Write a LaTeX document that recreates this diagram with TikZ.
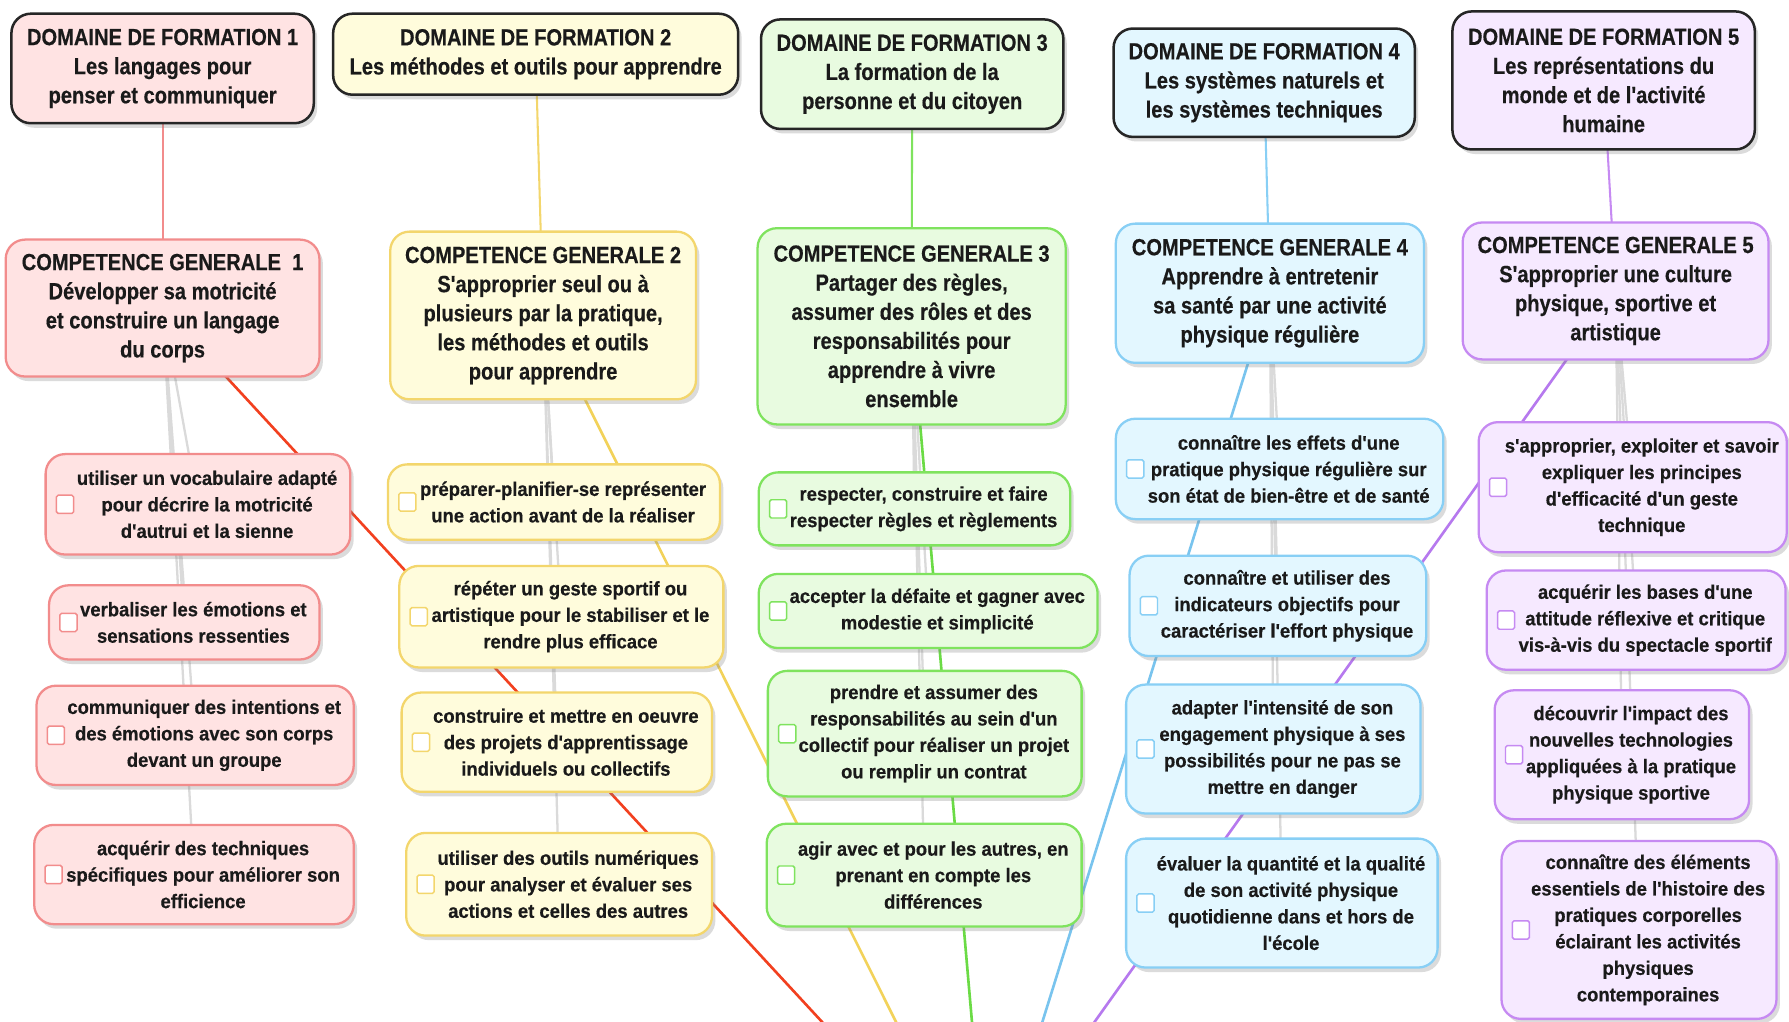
\documentclass[tikz,border=0pt]{standalone}
\usepackage{fontspec}
\setmainfont{Liberation Sans}
\newfontfamily\hfont{Liberation Sans}[FakeStretch=0.86,FakeBold=0.4]
\newfontfamily\sfont{Liberation Sans}[FakeStretch=0.94,FakeBold=0.4]
\usetikzlibrary{shadows,calc}
\pgfdeclarelayer{bg}
\pgfsetlayers{bg,main}
\definecolor{txt}{HTML}{1A1A1A}
\definecolor{dfb}{HTML}{262626}
\definecolor{fa}{HTML}{FFE3E3}\definecolor{ba}{HTML}{F28C8C}
\definecolor{fb}{HTML}{FFFCDC}\definecolor{bb}{HTML}{F3D66C}
\definecolor{fc}{HTML}{E8FBE0}\definecolor{bc}{HTML}{7FE35E}
\definecolor{fd}{HTML}{E3F7FF}\definecolor{bd}{HTML}{88CFF5}
\definecolor{fe}{HTML}{F6E9FF}\definecolor{be}{HTML}{C68AF2}
\definecolor{la}{HTML}{F2401F}
\definecolor{lb}{HTML}{F2D25A}
\definecolor{lc}{HTML}{6BDB45}
\definecolor{ld}{HTML}{79C4EE}
\definecolor{le}{HTML}{B679EE}
\definecolor{gl}{HTML}{DADADA}
\begin{document}
\begin{tikzpicture}[x=1pt,y=-1pt,
  shad/.style={drop shadow={shadow xshift=3pt,shadow yshift=-4pt,opacity=0.28}},
  dfbox/.style={draw=dfb,line width=2.2pt,rounded corners=17pt,fill=#1,shad,
    align=center,text=txt,inner sep=0pt,
    font={\hfont\bfseries\fontsize{20.5}{25.5}\selectfont}},
  cgbox/.style={line width=2pt,rounded corners=17pt,shad,
    align=center,text=txt,inner sep=0pt,
    font={\hfont\bfseries\fontsize{20.5}{25.5}\selectfont}},
  subbox/.style={line width=2pt,rounded corners=17pt,shad,inner sep=0pt},
  subtxt/.style={align=center,text=txt,inner sep=0pt,
    font={\sfont\bfseries\fontsize{17.2}{23.2}\selectfont}},
  chk/.style={draw=#1,fill=white,line width=1.3pt,minimum width=15pt,
    minimum height=16pt,inner sep=0pt,rounded corners=1.5pt},
  ca/.style={draw=ba,fill=fa},
  cb/.style={draw=bb,fill=fb},
  cc/.style={draw=bc,fill=fc},
  cd/.style={draw=bd,fill=fd},
  ce/.style={draw=be,fill=fe},
  dfline/.style={line width=1.8pt,draw=#1},
  longline/.style={line width=2.3pt,draw=#1},
  greyline/.style={line width=2pt,draw=gl}
]
\begin{pgfonlayer}{bg}
\fill[white] (0,0) rectangle (1568,895);
\end{pgfonlayer}
\useasboundingbox (0,0) rectangle (1568,895);

% Domaines
\node[dfbox=fa,minimum width=265pt,minimum height=96pt] (df1) at (142.5,60)
 {DOMAINE DE FORMATION 1\\Les langages pour\\penser et communiquer};
\node[dfbox=fb,minimum width=355pt,minimum height=71pt] (df2) at (469.5,47.5)
 {DOMAINE DE FORMATION 2\\Les méthodes et outils pour apprendre};
\node[dfbox=fc,minimum width=265pt,minimum height=96pt] (df3) at (799.5,65)
 {DOMAINE DE FORMATION 3\\La formation de la\\personne et du citoyen};
\node[dfbox=fd,minimum width=264pt,minimum height=95pt] (df4) at (1108,72.5)
 {DOMAINE DE FORMATION 4\\Les systèmes naturels et\\les systèmes techniques};
\node[dfbox=fe,minimum width=265pt,minimum height=121pt] (df5) at (1405.5,70.5)
 {DOMAINE DE FORMATION 5\\Les représentations du\\monde et de l'activité\\humaine};

% Competences generales
\node[cgbox,ca,minimum width=275pt,minimum height=120pt] (cg1) at (142.5,270)
 {COMPETENCE GENERALE\ \ 1\\Développer sa motricité\\et construire un langage\\du corps};
\node[cgbox,cb,minimum width=268pt,minimum height=147pt] (cg2) at (476,276.5)
 {COMPETENCE GENERALE 2\\S'approprier seul ou à\\plusieurs par la pratique,\\les méthodes et outils\\pour apprendre};
\node[cgbox,cc,minimum width=270pt,minimum height=172pt] (cg3) at (799,286)
 {COMPETENCE GENERALE 3\\Partager des règles,\\assumer des rôles et des\\responsabilités pour\\apprendre à vivre\\ensemble};
\node[cgbox,cd,minimum width=270pt,minimum height=122pt] (cg4) at (1113,257)
 {COMPETENCE GENERALE 4\\Apprendre à entretenir\\sa santé par une activité\\physique régulière};
\node[cgbox,ce,minimum width=268pt,minimum height=120pt] (cg5) at (1416,255)
 {COMPETENCE GENERALE 5\\S'approprier une culture\\physique, sportive et\\artistique};

% sub items: name, style, center, width, height, checkbox colour, text
\foreach \n/\st/\cx/\cy/\w/\h/\cl/\t in {
 s1a/ca/173.5/442/267/88/ba/{utiliser un vocabulaire adapté\\pour décrire la motricité\\d'autrui et la sienne},
 s1b/ca/161.5/545.5/237/65/ba/{verbaliser les émotions et\\sensations ressenties},
 s1c/ca/171/644.5/278/87/ba/{communiquer des intentions et\\des émotions avec son corps\\devant un groupe},
 s1d/ca/170/766.5/280/87/ba/{acquérir des techniques\\spécifiques pour améliorer son\\efficience},
 s2a/cb/485.5/440/291/66/bb/{préparer-planifier-se représenter\\une action avant de la réaliser},
 s2b/cb/492/540.5/284/89/bb/{répéter un geste sportif ou\\artistique pour le stabiliser et le\\rendre plus efficace},
 s2c/cb/488/650.5/272/87/bb/{construire et mettre en oeuvre\\des projets d'apprentissage\\individuels ou collectifs},
 s2d/cb/490/775/268/90/bb/{utiliser des outils numériques\\pour analyser et évaluer ses\\actions et celles des autres},
 s3a/cc/801.5/446/273/64/bc/{respecter, construire et faire\\respecter règles et règlements},
 s3b/cc/813.5/535.5/297/65/bc/{accepter la défaite et gagner avec\\modestie et simplicité},
 s3c/cc/810.5/643/275/110/bc/{prendre et assumer des\\responsabilités au sein d'un\\collectif pour réaliser un projet\\ou remplir un contrat},
 s3d/cc/810/767/276/90/bc/{agir avec et pour les autres, en\\prenant en compte les\\différences},
 s4a/cd/1121.5/411/287/88/bd/{connaître les effets d'une\\pratique physique régulière sur\\son état de bien-être et de santé},
 s4b/cd/1120/531/260/88/bd/{connaître et utiliser des\\indicateurs objectifs pour\\caractériser l'effort physique},
 s4c/cd/1116/656.5/258/113/bd/{adapter l'intensité de son\\engagement physique à ses\\possibilités pour ne pas se\\mettre en danger},
 s4d/cd/1123.5/791.5/273/113/bd/{évaluer la quantité et la qualité\\de son activité physique\\quotidienne dans et hors de\\l'école},
 s5a/ce/1431/427/270/114/be/{s'approprier, exploiter et savoir\\expliquer les principes\\d'efficacité d'un geste\\technique},
 s5b/ce/1434/543.5/262/87/be/{acquérir les bases d'une\\attitude réflexive et critique\\vis-à-vis du spectacle sportif},
 s5c/ce/1421.5/661.5/223/113/be/{découvrir l'impact des\\nouvelles technologies\\appliquées à la pratique\\physique sportive},
 s5d/ce/1436.5/815/241/156/be/{connaître des éléments\\essentiels de l'histoire des\\pratiques corporelles\\éclairant les activités\\physiques\\contemporaines}}
{
 \node[subbox,\st,minimum width=\w pt,minimum height=\h pt] (\n) at (\cx,\cy) {};
 \node[chk=\cl] (\n c) at ($(\n.west)+(18,0)$) {};
 \node[subtxt] (\n t) at ($(\n.center)+(8,0)$) {\t};
}

% free ends of the long connectors (towards the centre of the map, off the page)
\coordinate (ea) at (743,920);
\coordinate (eb) at (797.5,920);
\coordinate (ec) at (854,920);
\coordinate (ed) at (906,920);
\coordinate (ee) at (942,920);

\begin{pgfonlayer}{bg}
% grey links from each competence to its items
\foreach \g/\k in {cg1/s1a,cg1/s1b,cg1/s1c,cg1/s1d,
                   cg2/s2a,cg2/s2b,cg2/s2c,cg2/s2d,
                   cg3/s3a,cg3/s3b,cg3/s3c,cg3/s3d,
                   cg4/s4a,cg4/s4b,cg4/s4c,cg4/s4d,
                   cg5/s5a,cg5/s5b,cg5/s5c,cg5/s5d}
  \draw[greyline] (\g.center) -- (\k.center);
% domaine -> competence
\draw[dfline=ba] (df1.center) -- (cg1.center);
\draw[dfline=bb] (df2.center) -- (cg2.center);
\draw[dfline=bc] (df3.center) -- (cg3.center);
\draw[dfline=bd] (df4.center) -- (cg4.center);
\draw[dfline=be] (df5.center) -- (cg5.center);
% competence -> centre
\draw[longline=la] (cg1.center) -- (ea);
\draw[longline=lb] (cg2.center) -- (eb);
\draw[longline=lc] (cg3.center) -- (ec);
\draw[longline=ld] (cg4.center) -- (ed);
\draw[longline=le] (cg5.center) -- (ee);
\end{pgfonlayer}
\end{tikzpicture}
\end{document}
